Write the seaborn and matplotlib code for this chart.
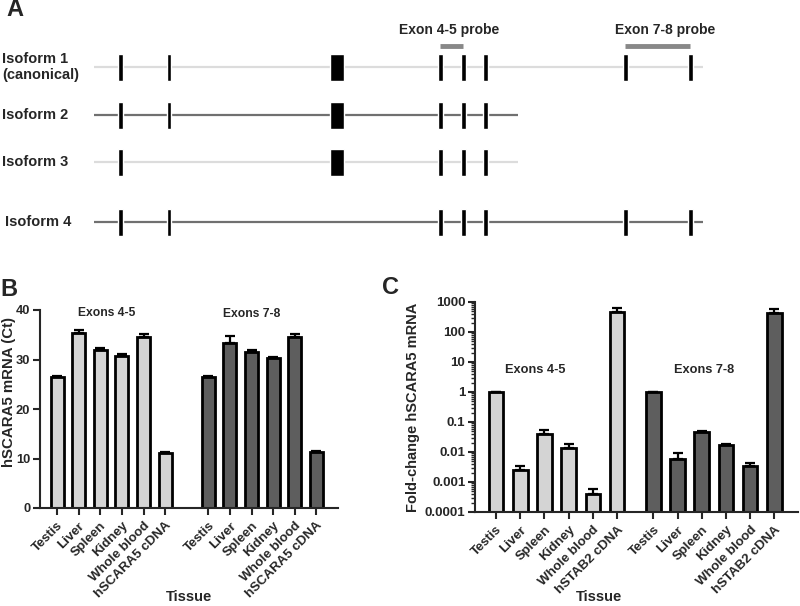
import numpy as np
import pandas as pd
import seaborn as sns
import matplotlib.pyplot as plt

# ---- panel A: isoform schematic ----
isoform_names = ["Isoform 1\n(canonical)", "Isoform 2", "Isoform 3", "Isoform 4"]
isoform_rows = [67, 115, 162, 222]
isoform_start = [94, 94, 94, 94]
isoform_end = [703, 518, 518, 703]
isoform_line_colors = ["#dcdcdc", "#707070", "#dcdcdc", "#707070"]
exon_pos = [120, 169, 337, 440, 463, 485, 625, 690]
exon_width = [5, 4.5, 14, 5, 5, 5, 5, 5]
iso1_exons = [0, 1, 2, 3, 4, 5, 6, 7]
iso2_exons = [0, 1, 2, 3, 4, 5]
iso3_exons = [0, 2, 3, 4, 5]
iso4_exons = [0, 1, 3, 4, 5, 6, 7]
probe_names = ["Exon 4-5 probe", "Exon 7-8 probe"]
probe_exons = [(3, 4), (6, 7)]

# ---- panel B / C: qPCR ----
tissues_b = ["Testis", "Liver", "Spleen", "Kidney", "Whole blood", "hSCARA5 cDNA"]
tissues_c = ["Testis", "Liver", "Spleen", "Kidney", "Whole blood", "hSTAB2 cDNA"]
ct_45 = [26.5, 35.3, 32.0, 30.8, 34.5, 11.1]
ct_45_err = [0.2, 0.6, 0.3, 0.3, 0.6, 0.3]
ct_78 = [26.5, 33.4, 31.6, 30.4, 34.5, 11.4]
ct_78_err = [0.2, 1.3, 0.3, 0.2, 0.6, 0.2]
fold_45 = [1, 0.0025, 0.04, 0.014, 0.0004, 480]
fold_45_err = [0, 0.001, 0.015, 0.005, 0.00017, 170]
fold_78 = [1, 0.006, 0.046, 0.017, 0.0034, 430]
fold_78_err = [0, 0.003, 0.006, 0.002, 0.0008, 150]

light, dark = "#d4d4d4", "#5e5e5e"

sns.set_style("ticks")
plt.rcParams["font.family"] = ["Liberation Sans", "DejaVu Sans"]
plt.rcParams["font.weight"] = "bold"

fig = plt.figure(figsize=(8, 6.06), dpi=100)

# A
axa = fig.add_axes([0, 1 - 250 / 606, 1, 250 / 606])
axa.set_xlim(0, 800)
axa.set_ylim(250, 0)
axa.axis("off")
for name, y, x0, x1, col, ex in zip(isoform_names, isoform_rows, isoform_start, isoform_end,
                                    isoform_line_colors,
                                    [iso1_exons, iso2_exons, iso3_exons, iso4_exons]):
    axa.hlines(y, x0, x1, color=col, lw=1.6, zorder=1)
    axa.bar([exon_pos[i] for i in ex], 27, bottom=y - 13.5,
            width=[exon_width[i] for i in ex], color="black", zorder=2)
    axa.text(2 if "4" not in name else 5, y, name, ha="left", va="center",
             fontsize=10.5, fontweight="bold", linespacing=1.25)
for pname, (i, j) in zip(probe_names, probe_exons):
    axa.hlines(46, exon_pos[i], exon_pos[j], color="#888888", lw=3.5)
    axa.text((exon_pos[i] + exon_pos[j]) / 2 - 2 if i == 3 else (exon_pos[i] + exon_pos[j]) / 2 + 8,
             30, pname, ha="center", va="center", fontsize=10, fontweight="bold")

fig.text(0.008, 1 - 10 / 606, "A", fontsize=17, fontweight="bold", va="center")
fig.text(0.0, 1 - 290 / 606, "B", fontsize=17, fontweight="bold", va="center")
fig.text(0.478, 1 - 288 / 606, "C", fontsize=17, fontweight="bold", va="center")


def qpcr_panel(ax, vals45, err45, vals78, err78, labels, gap, xfont):
    pos45 = np.arange(6)
    pos78 = np.arange(6) + 6 + gap
    df = pd.DataFrame({
        "pos": np.concatenate([pos45, pos78]),
        "val": vals45 + vals78,
        "probe": ["45"] * 6 + ["78"] * 6,
    })
    sns.barplot(data=df, x="pos", y="val", hue="probe", palette=[light, dark],
                native_scale=True, dodge=False, width=0.6, edgecolor="black",
                linewidth=2, errorbar=None, legend=False, ax=ax)
    ax.errorbar(pos45, vals45, yerr=[np.zeros(6), err45], fmt="none", ecolor="black",
                elinewidth=1.6, capsize=3.5, capthick=1.6, zorder=3)
    ax.errorbar(pos78, vals78, yerr=[np.zeros(6), err78], fmt="none", ecolor="black",
                elinewidth=1.6, capsize=3.5, capthick=1.6, zorder=3)
    ax.set_xticks(np.concatenate([pos45, pos78]))
    ax.set_xticklabels(labels + labels, rotation=45, ha="right", rotation_mode="anchor",
                       fontsize=xfont, fontweight="bold")
    for s in ["top", "right"]:
        ax.spines[s].set_visible(False)
    for s in ["left", "bottom"]:
        ax.spines[s].set_linewidth(1.5)
    ax.tick_params(axis="both", width=1.5, length=5, labelsize=9.5)
    ax.tick_params(axis="y", which="minor", width=1.0, length=3)
    ax.tick_params(axis="y", pad=2)
    for t in ax.get_yticklabels():
        t.set_fontweight("bold")
    ax.set_xlabel("Tissue", fontsize=10.5, fontweight="bold")
    return pos45, pos78


# B
axb = fig.add_axes([0.05, 1 - 508 / 606, 0.3725, 198 / 606])
qpcr_panel(axb, ct_45, ct_45_err, ct_78, ct_78_err, tissues_b, 1, 7.4)
axb.set_xlim(-0.79, 13.0)
axb.set_ylim(0, 40)
axb.set_yticks([0, 10, 20, 30, 40])
axb.set_yticklabels(["0", "10", "20", "30", "40"], fontweight="bold", fontsize=9.3)
axb.set_ylabel("hSCARA5 mRNA (Ct)", fontsize=10.8, fontweight="bold")
axb.yaxis.set_label_coords(-0.082, 0.585)
axb.xaxis.set_label_coords(0.5, -0.415)
axb.text(2.3, 39.3, "Exons 4-5", ha="center", va="center", fontsize=8.7, fontweight="bold")
axb.text(9.0, 39.2, "Exons 7-8", ha="center", va="center", fontsize=8.7, fontweight="bold")

# C
axc = fig.add_axes([475 / 800, 1 - 512 / 606, 323 / 800, 210 / 606])
axc.set_yscale("log")
qpcr_panel(axc, fold_45, fold_45_err, fold_78, fold_78_err, tissues_c, 0.5, 8.3)
axc.set_yscale("log")
axc.set_xlim(-0.87, 12.48)
axc.set_ylim(1e-4, 1e3)
ticks_c = [1e-4, 1e-3, 1e-2, 1e-1, 1, 10, 100, 1000]
axc.set_yticks(ticks_c)
axc.set_yticklabels(["0.0001", "0.001", "0.01", "0.1", "1", "10", "100", "1000"],
                    fontweight="bold", fontsize=9.5)
axc.set_ylabel("Fold-change hSCARA5 mRNA", fontsize=10.5, fontweight="bold")
axc.yaxis.set_label_coords(-0.17, 0.5)
axc.xaxis.set_label_coords(0.385, -0.37)
axc.text(1.6, 5.4, "Exons 4-5", ha="center", va="center", fontsize=9.2, fontweight="bold")
axc.text(8.6, 5.4, "Exons 7-8", ha="center", va="center", fontsize=9.2, fontweight="bold")

fig.savefig("out.png", dpi=100)
